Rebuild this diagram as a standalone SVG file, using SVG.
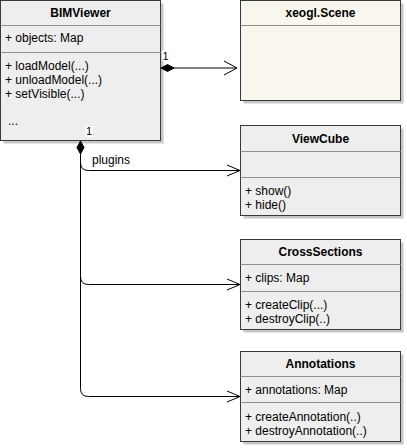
<svg xmlns="http://www.w3.org/2000/svg" width="407" height="448" viewBox="0 0 407 448">
<defs>
<style>
.box{stroke:#36393d;stroke-width:1}
.gray{fill:#eeeeee}
.beige{fill:#f9f7ed}
.shadow{fill:#000;opacity:0.22}
.div{stroke:#909090;stroke-width:1}
text{font-family:"Liberation Sans",Arial,sans-serif;font-size:12px;fill:#000}
.title{font-weight:bold;text-anchor:middle}
.lbl{font-size:11px}
.edge{fill:none;stroke:#000;stroke-width:1}
.arrow{fill:none;stroke:#000;stroke-width:1}
</style>
<marker id="diamond" markerUnits="userSpaceOnUse" markerWidth="16" markerHeight="10" viewBox="0 0 16 10" refX="1" refY="5" orient="auto">
<path d="M1,5 L7.5,1.5 L14,5 L7.5,8.5 Z" fill="#000" stroke="#000"/>
</marker>
</defs>
<g id="BIMViewer">
<rect class="shadow" x="3.5" y="3.5" width="160" height="140"/>
<rect class="box gray" x="0.5" y="0.5" width="160" height="140"/>
<line class="div" x1="0.5" y1="25.5" x2="160.5" y2="25.5"/>
<line class="div" x1="0.5" y1="52.5" x2="160.5" y2="52.5"/>
<text class="title" x="80.5" y="16.5">BIMViewer</text>
<text x="5" y="42">+ objects: Map</text>
<text x="5" y="70">+ loadModel(...)</text>
<text x="5" y="84">+ unloadModel(...)</text>
<text x="5" y="98">+ setVisible(...)</text>
<text x="8" y="125">...</text>
</g>
<g id="xeoglScene">
<rect class="shadow" x="243.5" y="3.5" width="160" height="100"/>
<rect class="box beige" x="240.5" y="0.5" width="160" height="100"/>
<line class="div" x1="240.5" y1="25.5" x2="400.5" y2="25.5"/>
<text class="title" x="320.5" y="16.5">xeogl.Scene</text>
</g>
<g id="ViewCube">
<rect class="shadow" x="243.5" y="128.5" width="160" height="90"/>
<rect class="box gray" x="240.5" y="125.5" width="160" height="90"/>
<line class="div" x1="240.5" y1="151.5" x2="400.5" y2="151.5"/>
<line class="div" x1="240.5" y1="177.5" x2="400.5" y2="177.5"/>
<text class="title" x="320.5" y="142.5">ViewCube</text>
<text x="245" y="195">+ show()</text>
<text x="245" y="208.5">+ hide()</text>
</g>
<g id="CrossSections">
<rect class="shadow" x="243.5" y="242.5" width="160" height="90"/>
<rect class="box gray" x="240.5" y="239.5" width="160" height="90"/>
<line class="div" x1="240.5" y1="264.5" x2="400.5" y2="264.5"/>
<line class="div" x1="240.5" y1="291.5" x2="400.5" y2="291.5"/>
<text class="title" x="320.5" y="256">CrossSections</text>
<text x="245" y="282">+ clips: Map</text>
<text x="245" y="309">+ createClip(...)</text>
<text x="245" y="323">+ destroyClip(..)</text>
</g>
<g id="Annotations">
<rect class="shadow" x="243.5" y="354.5" width="160" height="90"/>
<rect class="box gray" x="240.5" y="351.5" width="160" height="90"/>
<line class="div" x1="240.5" y1="376.5" x2="400.5" y2="376.5"/>
<line class="div" x1="240.5" y1="402.5" x2="400.5" y2="402.5"/>
<text class="title" x="320.5" y="368">Annotations</text>
<text x="245" y="394">+ annotations: Map</text>
<text x="245" y="421">+ createAnnotation(..)</text>
<text x="245" y="435">+ destroyAnnotation(..)</text>
</g>
<g id="connectors">
<path class="edge" d="M161,68 L237,68" marker-start="url(#diamond)"/>
<polyline class="arrow" points="224,61 237,68 224,75"/>
<rect x="162" y="50" width="7" height="11" fill="#fff"/>
<text class="lbl" x="162.5" y="59.5">1</text>
<path class="edge" d="M80.5,141 L80.5,162.5 Q80.5,170.5 88.5,170.5 L240,170.5" marker-start="url(#diamond)"/>
<path class="edge" d="M80.5,155 L80.5,276.5 Q80.5,284.5 88.5,284.5 L240,284.5"/>
<path class="edge" d="M80.5,155 L80.5,388.5 Q80.5,396.5 88.5,396.5 L240,396.5"/>
<polyline class="arrow" points="227,165 240,170.5 227,176"/>
<polyline class="arrow" points="227,279 240,284.5 227,290"/>
<polyline class="arrow" points="227,391 240,396.5 227,402"/>
<rect x="91" y="152" width="40" height="14" fill="#fff"/>
<text x="92" y="164">plugins</text>
<rect x="85" y="126" width="8" height="11" fill="#fff"/>
<text class="lbl" x="86" y="135">1</text>
</g>
</svg>
